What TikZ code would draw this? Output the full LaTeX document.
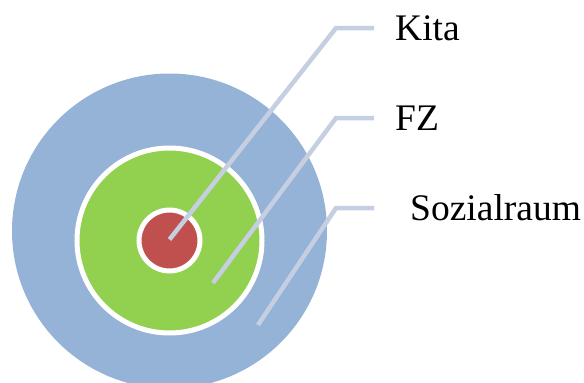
\documentclass[tikz,border=0pt]{standalone}
\usepackage{fontspec}
\setmainfont{Liberation Serif}
\definecolor{ringblue}{RGB}{149,179,215}
\definecolor{ringgreen}{RGB}{146,208,80}
\definecolor{ringred}{RGB}{192,80,77}
\definecolor{leader}{RGB}{197,207,225}
\tikzset{
  ring/.style={circle, inner sep=0pt, draw=white, line width=5pt},
  leaderline/.style={draw=leader, line width=4.5pt, line join=miter},
  tag/.style={anchor=west, inner ysep=0pt, text height=24pt, text depth=0pt,
              font=\fontsize{37.5}{45}\selectfont}
}
\begin{document}
\begin{tikzpicture}[x=1pt,y=-1pt]
  \useasboundingbox (0,0) rectangle (584,383);
  % nested areas
  \node[circle, inner sep=0pt, fill=ringblue, minimum size=315pt] (raum) at (169.5,231) {};
  \node[ring, fill=ringgreen, minimum size=185pt] (fz) at (169.5,240.5) {};
  \node[ring, fill=ringred, minimum size=61pt] (kita) at (169.5,240.5) {};
  % labels
  \node[tag, inner xsep=21pt] (lkita) at (374,28) {Kita};
  \node[tag, inner xsep=21pt] (lfz) at (374,118) {FZ};
  \node[tag, inner xsep=36pt] (lraum) at (374,208) {Sozialraum};
  % leader lines
  \coordinate (ekita) at (169.5,239.5);
  \coordinate (efz) at (213,283);
  \coordinate (eraum) at (258,325);
  \draw[leaderline] (ekita) -- (336,28) -- (lkita.west);
  \draw[leaderline] (efz) -- (336,118) -- (lfz.west);
  \draw[leaderline] (eraum) -- (336,208) -- (lraum.west);
\end{tikzpicture}
\end{document}
